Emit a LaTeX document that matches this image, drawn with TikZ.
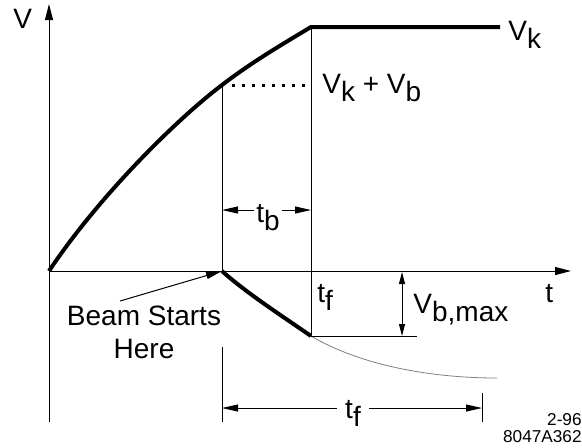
\documentclass[tikz,border=0pt]{standalone}
\usepackage{fontspec}
\setmainfont{Liberation Sans}
\usetikzlibrary{arrows.meta}
\newcommand{\lsub}[1]{\raisebox{-4pt}{#1}}

\begin{document}
\begin{tikzpicture}[x=0.5pt, y=-0.5pt,
  axis/.style={-{Triangle[length=8pt,width=4pt]}, line width=0.5pt},
  guide/.style={line width=0.5pt},
  curve/.style={line width=2pt},
  tail/.style={line width=0.4pt, gray},
  dots/.style={line width=1.5pt, dash pattern=on 1.5pt off 3.5pt},
  dim/.style={-{Triangle[length=8pt,width=3.5pt]}, line width=0.5pt},
  dimboth/.style={{Triangle[length=6pt,width=3pt]}-{Triangle[length=6pt,width=3pt]}, line width=0.5pt},
  lbl/.style={font=\fontsize{14}{16}\selectfont, inner sep=1pt},
  note/.style={font=\fontsize{14}{16.5}\selectfont, align=center, inner sep=0pt},
  code/.style={font=\fontsize{8.6}{8.6}\selectfont, inner sep=0pt}
]
\useasboundingbox (0,0) rectangle (582,447);
% key points of the curves
\coordinate (O) at (49,271);
\coordinate (B) at (222,85);
\coordinate (K) at (311,27);
\coordinate (Kend) at (500,27);
\coordinate (D) at (311,85);
\coordinate (B0) at (222,271);
\coordinate (F) at (311,336);
\coordinate (Fend) at (497,378);
% axes
\coordinate (Vtop) at (49,4);
\coordinate (Vbot) at (49,422);
\coordinate (Tend) at (571,271);
\draw[axis] (Vbot) -- (Vtop);
\draw[axis] (O) -- (Tend);
\node[lbl, anchor=base west] (Vlab) at (11,28) {V};
\node[lbl, anchor=base west] (tlab) at (543,302) {t};
% voltage curve
\draw[curve] (O) .. controls (99,196) and (177,119) .. (B)
  .. controls (252,62) and (281,45) .. (K) -- (Kend);
\node[lbl, anchor=base west] (Vk) at (506,40) {V\lsub{k}};
\draw[dots] ([xshift=5pt]B) -- (D);
\node[lbl, anchor=base west] (VkVb) at (320,93) {V\lsub{k} + V\lsub{b}};
% guide lines
\draw[guide] (B) -- (B0);
\draw[guide] (K) -- (F);
% t_b
\coordinate (tbL) at (222,210);
\coordinate (tbR) at (311,210);
\node[lbl, anchor=base] (tb) at (268,222) {t\lsub{b}};
\draw[dim] (tb.west |- tbL) -- (tbL);
\draw[dim] (tb.east |- tbR) -- (tbR);
% beam voltage
\draw[curve] (B0) .. controls (245,292) and (285,318) .. (F);
\draw[tail] (F) .. controls (360,365) and (430,378) .. (Fend);
\coordinate (Fr) at (417,336);
\draw[guide] (F) -- (Fr);
\coordinate (VbTop) at (402,272);
\coordinate (VbBot) at (402,336);
\draw[dimboth] (VbTop) -- (VbBot);
\node[lbl, anchor=base west] (Vbmax) at (411,313) {V\lsub{b,max}};
\node[lbl, anchor=base west] (tf) at (315,302) {t\lsub{f}};
% beam start
\node[note] (start) at (144,332) {Beam Starts\\Here};
\coordinate (startTail) at (120,301);
\draw[dim] (startTail) -- (B0);
% t_f span
\coordinate (tfTop) at (222,347);
\coordinate (tfBot) at (222,422);
\coordinate (tfTick) at (482,393);
\coordinate (tfTickBot) at (482,422);
\draw[guide] (tfTop) -- (tfBot);
\draw[guide] (tfTick) -- (tfTickBot);
\coordinate (tfL) at (222,408);
\coordinate (tfR) at (482,408);
\node[lbl, anchor=base, inner sep=4pt] (tfspan) at (353,418) {t\lsub{f}};
\draw[dim] (tfspan.west |- tfL) -- (tfL);
\draw[dim] (tfspan.east |- tfR) -- (tfR);
% figure code
\node[code, anchor=base east] (date) at (582,425) {2-96};
\node[code, anchor=base east] (fig) at (582,442) {8047A362};
\end{tikzpicture}
\end{document}
